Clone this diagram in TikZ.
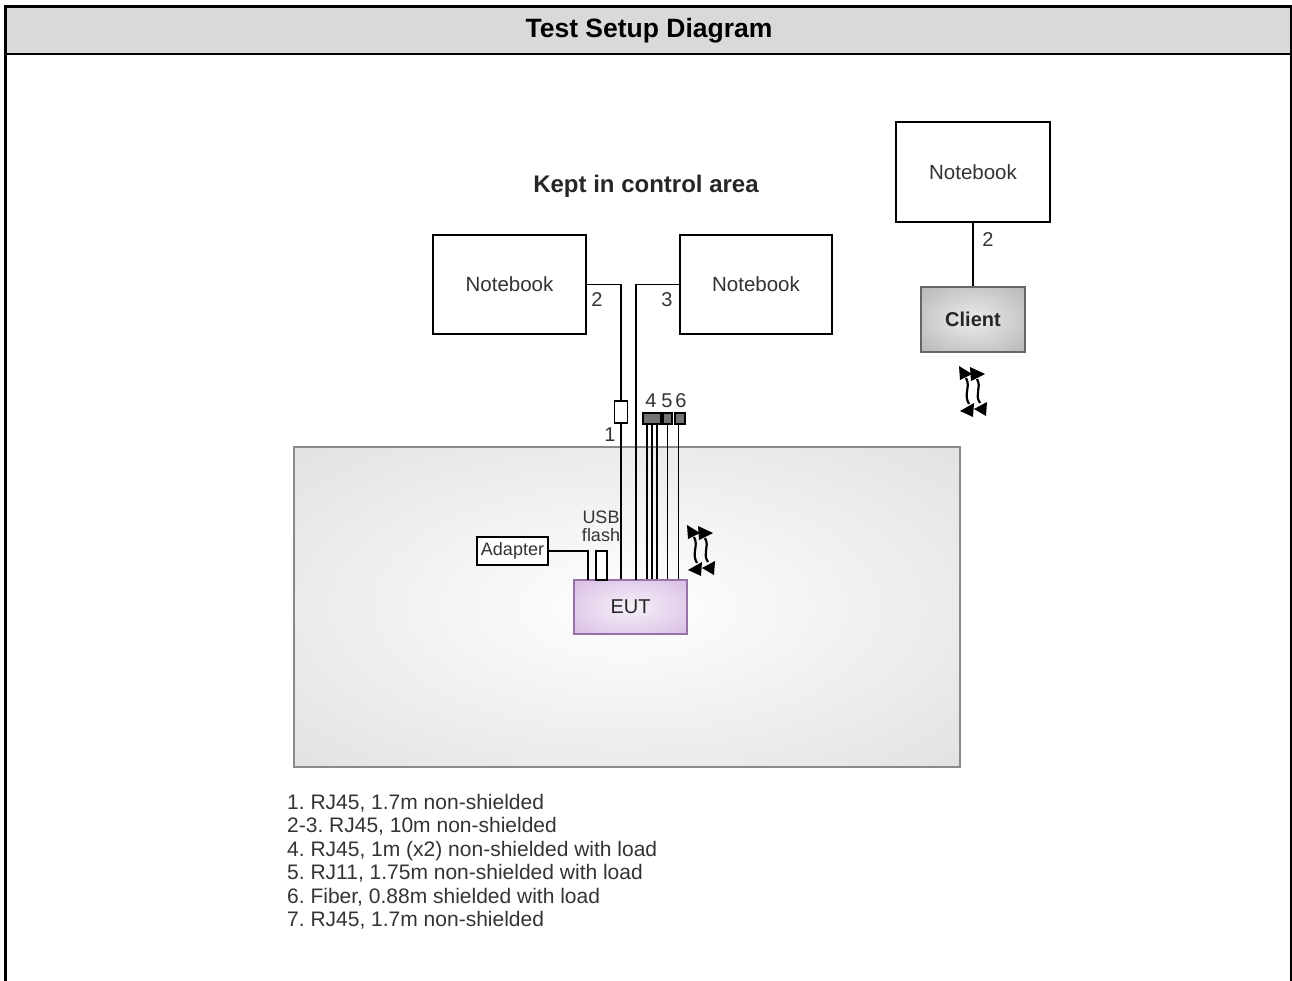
\documentclass[tikz,border=0pt]{standalone}
\usepackage{fontspec}
\setmainfont{Liberation Sans}
\definecolor{hdr}{HTML}{D9D9D9}
\definecolor{areaA}{HTML}{D6D6D6}
\definecolor{areaB}{HTML}{C8C8C8}
\definecolor{areaBorder}{HTML}{8A8A8A}
\definecolor{eutIn}{HTML}{F6F0F8}
\definecolor{eutOut}{HTML}{CDA9DC}
\definecolor{eutBorder}{HTML}{9673A6}
\definecolor{cliIn}{HTML}{EBEBEB}
\definecolor{cliOut}{HTML}{A3A3A3}
\definecolor{txt}{HTML}{333333}
\pgfdeclareradialshading{areashade}{\pgfpoint{0bp}{0bp}}{color(0bp)=(white); color(50bp)=(areaA); color(72bp)=(areaB)}
\pgfdeclareradialshading{eutshade}{\pgfpoint{0bp}{0bp}}{color(0bp)=(eutIn); color(50bp)=(eutOut); color(72bp)=(eutOut)}
\pgfdeclareradialshading{clishade}{\pgfpoint{0bp}{0bp}}{color(0bp)=(cliIn); color(50bp)=(cliOut); color(72bp)=(cliOut)}
\frenchspacing
\tikzset{
  box/.style={draw=black, line width=1.3pt, fill=white, text=txt, inner sep=0pt, font=\fontsize{20.5}{22}\selectfont},
  cable/.style={draw=black, line width=1.4pt},
  lbl/.style={text=txt, inner sep=0pt, font=\fontsize{20}{22}\selectfont},
  small/.style={text=txt, inner sep=0pt, font=\fontsize{18}{20}\selectfont},
  conn/.style={draw=black, line width=1.2pt, inner sep=0pt, fill=black!55},
  wireless/.pic={
    \fill (-14,-26) -- (-13,-12) -- (-1,-18) -- cycle;
    \fill (-3,-25) -- (-2,-11) -- (12,-18) -- cycle;
    \fill (1,11) -- (0,25) -- (-13,19) -- cycle;
    \fill (14,10) -- (13,24) -- (1,17) -- cycle;
    \draw[line width=2.2pt] (-7,-14) .. controls (-2,-5) and (-10,2) .. (-4,12);
    \draw[line width=2.2pt] (4,-13) .. controls (9,-4) and (1,2) .. (7,11);
  }
}
\begin{document}
\begin{tikzpicture}[x=1pt,y=-1pt]
\useasboundingbox (0,0) rectangle (1292,981);
% frame
\fill[hdr] (7,8) rectangle (1290,53.5);
\draw[line width=1.8pt] (7,54.2) -- (1290,54.2);
\draw[line width=3.5pt] (5.5,985) -- (5.5,6.7) -- (1291.5,6.7) -- (1291.5,985);
\node[font=\bfseries\fontsize{26.5}{28}\selectfont, inner sep=0pt] (title) at (649,31) {Test Setup Diagram};
\node[font=\bfseries\fontsize{24}{26}\selectfont, text=black!85, inner sep=0pt] (kept) at (646,186) {Kept in control area};
% area
\node[draw=areaBorder, line width=1.8pt, shading=areashade, minimum width=666pt, minimum height=320pt, inner sep=0pt] (area) at (627,607) {};
% notebooks
\node[box, minimum width=153pt, minimum height=99pt] (nb1) at (509.5,284.5) {Notebook};
\node[box, minimum width=152pt, minimum height=99pt] (nb2) at (756,284.5) {Notebook};
\node[box, minimum width=154pt, minimum height=100pt] (nb3) at (973,172) {Notebook};
\node[draw=black!60, line width=1.3pt, shading=clishade, minimum width=104pt, minimum height=65pt, inner sep=0pt, text=black!85, font=\bfseries\fontsize{20}{22}\selectfont] (client) at (973,319.5) {Client};
% EUT
\node[draw=eutBorder, line width=1.5pt, shading=eutshade, minimum width=113pt, minimum height=54pt, inner sep=0pt, text=black!85, font=\fontsize{20}{22}\selectfont] (eut) at (630.5,607) {EUT};
\node[box, line width=1.2pt, minimum width=71pt, minimum height=28pt, font=\fontsize{18}{20}\selectfont] (adapter) at (512.5,551) {Adapter};
\node[draw=black, line width=1.2pt, fill=white, minimum width=11pt, minimum height=29pt, inner sep=0pt] (usb) at (601.5,565.5) {};
% connectors
\node[draw=black, line width=1.2pt, fill=white, minimum width=13pt, minimum height=22pt, inner sep=0pt] (c1) at (621,412) {};
\node[conn, minimum width=18pt, minimum height=11pt] (c4) at (652,418.5) {};
\node[conn, minimum width=9pt, minimum height=11pt] (c5) at (667.5,418.5) {};
\node[conn, minimum width=10pt, minimum height=11pt] (c6) at (680,418.5) {};
\coordinate (c3end) at (636,580);
\coordinate (adend) at (588,580);
% cables
\draw[cable] (nb1.east) -| (c1.north);
\draw[cable] (c1.south) -- (c1.south |- eut.north);
\draw[cable] (nb2.west) -| (c3end);
\draw[cable] ([xshift=-5pt]c4.south) -- ([xshift=-5pt]c4.south |- eut.north);
\draw[cable] (c4.south) -- (c4.south |- eut.north);
\draw[cable] ([xshift=5pt]c4.south) -- ([xshift=5pt]c4.south |- eut.north);
\draw[cable] (c5.south) -- (c5.south |- eut.north);
\draw[cable] ([xshift=-1.5pt]c6.south) -- ([xshift=-1.5pt]c6.south |- eut.north);
\draw[cable] (adapter.east) -| (adend);
\draw[cable] (nb3.south) -- (client.north);
% labels
\node[lbl] (l2) at (597,300) {2};
\node[lbl] (l3) at (667,300) {3};
\node[lbl] (l1) at (610,435) {1};
\node[lbl] (l4) at (651,401) {4};
\node[lbl] (l5) at (667,401) {5};
\node[lbl] (l6) at (681,401) {6};
\node[lbl] (l2b) at (988,240) {2};
\node[small] (usbl) at (601,517) {USB};
\node[small] (flashl) at (601,535) {flash};
% wireless
\pic at (701,551) {wireless};
\pic at (973,392) {wireless};
% legend
\node[anchor=north west, text=txt, inner sep=0pt, align=left, font=\fontsize{21}{23.4}\selectfont] (legend) at (287,794) {1. RJ45, 1.7m non-shielded\\2-3. RJ45, 10m non-shielded\\4. RJ45, 1m (x2) non-shielded with load\\5. RJ11, 1.75m non-shielded with load\\6. Fiber, 0.88m shielded with load\\7. RJ45, 1.7m non-shielded};
\end{tikzpicture}
\end{document}
